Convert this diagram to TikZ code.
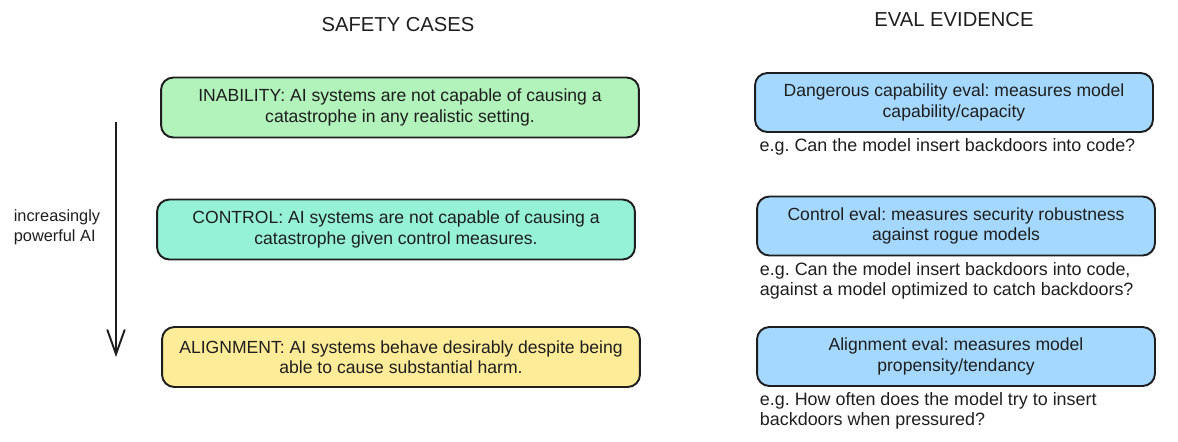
\documentclass[tikz,border=0pt]{standalone}
\usepackage{fontspec}
\setmainfont{Liberation Sans}
\usepackage{tikz}
\usetikzlibrary{positioning}
\usetikzlibrary{arrows.meta}
\usepackage{xcolor}
\definecolor{inkc}{HTML}{1E1E1E}
\definecolor{greenc}{HTML}{B2F2BB}
\definecolor{tealc}{HTML}{96F2D7}
\definecolor{yellowc}{HTML}{FFEC99}
\definecolor{bluec}{HTML}{A5D8FF}
\frenchspacing

\begin{document}
\begin{tikzpicture}[x=0.02cm, y=-0.02cm,
    casebox/.style={draw=inkc, line width=1.1pt, rounded corners=7pt, align=center,
        minimum width=9.56cm, minimum height=1.2cm, font=\fontsize{10}{11.5}\selectfont, text=inkc},
    evalbox/.style={draw=inkc, line width=1.1pt, rounded corners=7pt, fill=bluec, align=center,
        minimum width=7.96cm, minimum height=1.18cm, font=\fontsize{10}{11.5}\selectfont, text=inkc},
    example/.style={anchor=north west, align=left, inner sep=0pt,
        font=\fontsize{10.2}{11.5}\selectfont, text=inkc}]
    \useasboundingbox (0,0) rectangle (1178,441);

    % Column headings
    \node[font=\fontsize{11.5}{13}\selectfont, text=inkc] (hcases) at (398,25) {SAFETY CASES};
    \node[font=\fontsize{11.5}{13}\selectfont, text=inkc] (hevid) at (954,20) {EVAL EVIDENCE};

    % Safety cases
    \node[casebox, fill=greenc] (inability) at (400,107.5) {INABILITY: AI systems are not capable of causing a\\catastrophe in any realistic setting.};
    \node[casebox, fill=tealc] (control) at (396,229.5) {CONTROL: AI systems are not capable of causing a\\catastrophe given control measures.};
    \node[casebox, fill=yellowc] (alignment) at (401,357) {ALIGNMENT: AI systems behave desirably despite being\\able to cause substantial harm.};

    % Capability axis
    \coordinate (axtop) at (116,122);
    \coordinate (axbot) at (116,357);
    \draw[inkc, line width=1.1pt, -{Straight Barb[length=14pt,width=10pt,line width=1.1pt]}] (axtop) -- (axbot);
    \node[align=left, text=inkc, font=\fontsize{9.3}{11.5}\selectfont] (power) at (57,227) {increasingly\\powerful AI};

    % Eval evidence
    \node[evalbox] (dangereval) at (954,102.5) {Dangerous capability eval: measures model\\capability/capacity};
    \node[example] (dangerex) at ([xshift=3pt,yshift=-3pt]dangereval.south west) {e.g. Can the model insert backdoors into code?};

    \node[evalbox] (controleval) at (956,226) {Control eval: measures security robustness\\against rogue models};
    \node[example] (controlex) at ([xshift=2pt,yshift=-3pt]controleval.south west) {e.g. Can the model insert backdoors into code,\\against a model optimized to catch backdoors?};

    \node[evalbox] (aligneval) at (956,356.5) {Alignment eval: measures model\\propensity/tendancy};
    \node[example] (alignex) at ([xshift=2pt,yshift=-3pt]aligneval.south west) {e.g. How often does the model try to insert\\backdoors when pressured?};
\end{tikzpicture}
\end{document}
